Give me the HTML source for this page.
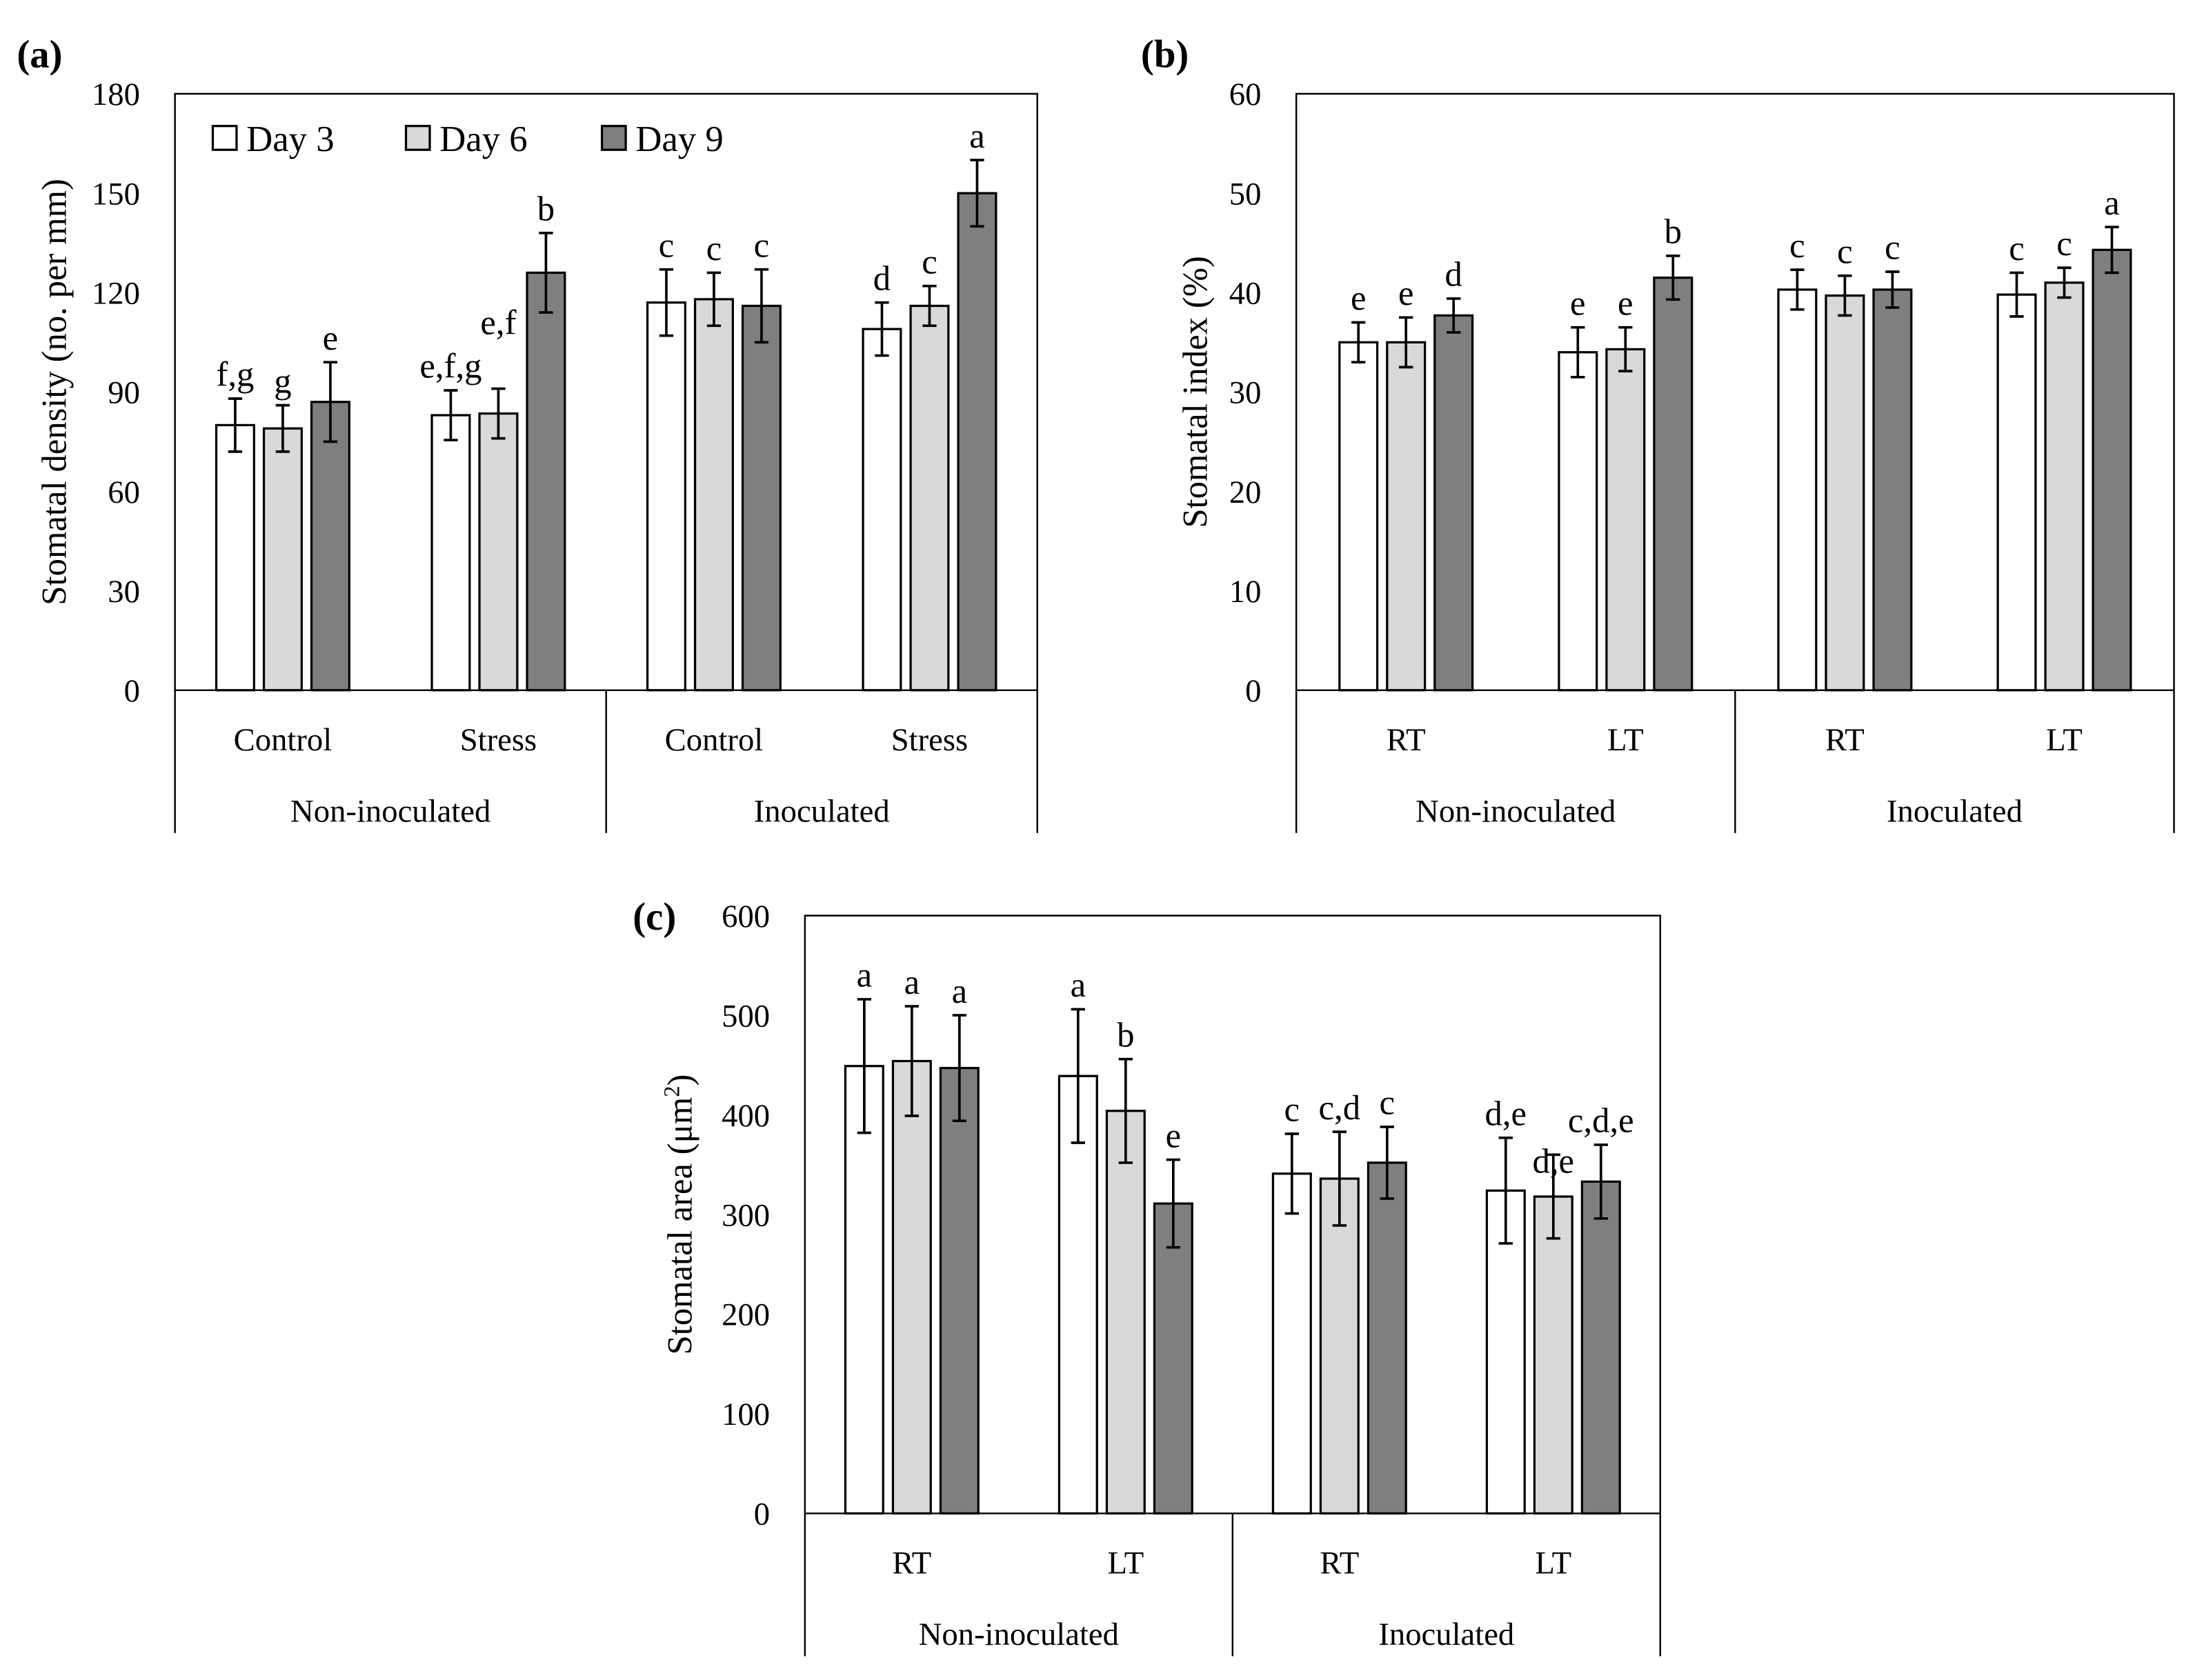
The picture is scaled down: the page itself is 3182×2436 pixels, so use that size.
<!DOCTYPE html>
<html><head><meta charset="utf-8"><style>
html,body{margin:0;padding:0;background:#fff}
svg{display:block}
text{font-family:"Liberation Serif",serif;fill:#000}
</style></head><body>
<svg id="fig" width="3182" height="2436" viewBox="0 0 1568 1200" preserveAspectRatio="none" xmlns="http://www.w3.org/2000/svg"></svg>
<script>
// Panel (a) data
const catsA = ["Control","Stress","Control","Stress"];
const groupsA = ["Non-inoculated","Inoculated"];
const d3A = [80,83,117,109];
const d6A = [79,83.5,118,116];
const d9A = [87,126,116,150];
const e3A = [8,7.5,10,8];
const e6A = [7,7.5,8,6];
const e9A = [12,12,11,10];
const l3A = ["f,g","e,f,g","c","d"];
const l6A = ["g","e,f","c","c"];
const l9A = ["e","b","c","a"];
const ticksA = [0,30,60,90,120,150,180];
// Panel (b) data
const catsB = ["RT","LT","RT","LT"];
const d3B = [35,34,40.3,39.8];
const d6B = [35,34.3,39.7,41];
const d9B = [37.7,41.5,40.3,44.3];
const e3B = [2,2.5,2,2.2];
const e6B = [2.5,2.2,2,1.5];
const e9B = [1.7,2.2,1.8,2.3];
const l3B = ["e","e","c","c"];
const l6B = ["e","e","c","c"];
const l9B = ["d","b","c","a"];
const ticksB = [0,10,20,30,40,50,60];
// Panel (c) data
const catsC = ["RT","LT","RT","LT"];
const d3C = [449,439,341,324];
const d6C = [454,404,336,318];
const d9C = [447,311,352,333];
const e3C = [67,67,40,53];
const e6C = [55,52,47,42];
const e9C = [53,44,36,37];
const l3C = ["a","a","c","d,e"];
const l6C = ["a","b","c,d","d,e"];
const l9C = ["a","e","c","c,d,e"];
const ticksC = [0,100,200,300,400,500,600];

const NS="http://www.w3.org/2000/svg";
const svg=document.getElementById('fig');
function mk(tag,attrs,parent){const e=document.createElementNS(NS,tag);for(const k in attrs)e.setAttribute(k,attrs[k]);(parent||svg).appendChild(e);return e;}
function txt(s,x,y,size,anchor,parent,extra){const t=mk('text',Object.assign({x:x,y:y,'font-size':size,'text-anchor':anchor||'middle'},extra||{}),parent);t.textContent=s;return t;}
const fills=["#ffffff","#d9d9d9","#7f7f7f"];

function panel(cfg){
  const g=mk('g',{});
  
  
  const {L,R,T,Z,B,max}=cfg;
  const y=v=>Z-(v/max)*(Z-T);
  const gw=(R-L)/4;
  const xc=i=>L+gw*(i+0.5);
  const fr=mk('path',{d:`M${L},${B} L${L},${T} L${R},${T} L${R},${B}`,fill:'none',stroke:'#000','stroke-width':1.2},g);
  
  const zl=mk('line',{x1:L,x2:R,y1:Z,y2:Z,stroke:'#000','stroke-width':1.2},g);
  
  const dv=mk('line',{x1:(L+R)/2,x2:(L+R)/2,y1:Z,y2:B,stroke:'#000','stroke-width':1.2},g);
  
  cfg.ticks.forEach(t=>{const e=txt(String(t),L-25,y(t)+8,23,'end',g);
    });
  const yt=txt(cfg.ytitle,0,0,25,'middle',g,{transform:`translate(${cfg.ytx},${(T+Z)/2}) rotate(-90)`});
  
  if(cfg.sup){const s=mk('tspan',{'baseline-shift':'super','font-size':16},yt);s.textContent='2';const s2=mk('tspan',{},yt);s2.textContent=')';}
  const pl=txt(cfg.label,cfg.lx,cfg.ly,28,'start',g,{'font-weight':'bold'});
  
  cfg.cats.forEach((c,i)=>{const e=txt(c,xc(i),Z+43,23,'middle',g);
    });
  groupsA.forEach((c,i)=>{const e=txt(c,L+(R-L)/4*(2*i+1),B-8,23,'middle',g);
    });
  const bw=27, step=34;
  const series=[cfg.s3,cfg.s6,cfg.s9], errs=[cfg.e3,cfg.e6,cfg.e9], labs=[cfg.l3,cfg.l6,cfg.l9];
  for(let s=0;s<3;s++){
    for(let i=0;i<4;i++){
      const cx=xc(i)+(s-1)*step;
      const v=series[s][i], er=errs[s][i];
      const r=mk('rect',{x:cx-bw/2,y:y(v),width:bw,height:Z-y(v),fill:fills[s],stroke:'#000','stroke-width':1.6},g);
      
      const eb=mk('path',{d:`M${cx},${y(v+er)} L${cx},${y(v-er)} M${cx-5},${y(v+er)} L${cx+5},${y(v+er)} M${cx-5},${y(v-er)} L${cx+5},${y(v-er)}`,stroke:'#000','stroke-width':1.8,fill:'none'},g);
      
      let off=(cfg.raise&&cfg.raise[s]&&cfg.raise[s][i])||0;
      const lt=txt(labs[s][i],cx,y(v+er)-9-off,25,'middle',g);
      
    }
  }
  return g;
}
panel({name:'panel-a-stomatal-density',L:125,R:741,T:67,Z:493,B:595,max:180,ticks:ticksA,
  ytitle:'Stomatal density (no. per mm)',ytx:47,label:'(a)',lx:12,ly:48,cats:catsA,
  s3:d3A,s6:d6A,s9:d9A,e3:e3A,e6:e6A,e9:e9A,l3:l3A,l6:l6A,l9:l9A,raise:[[],[0,30,0,0],[]]});
panel({name:'panel-b-stomatal-index',L:926,R:1553,T:67,Z:493,B:595,max:60,ticks:ticksB,
  ytitle:'Stomatal index (%)',ytx:862,label:'(b)',lx:815,ly:48,cats:catsB,
  s3:d3B,s6:d6B,s9:d9B,e3:e3B,e6:e6B,e9:e9B,l3:l3B,l6:l6B,l9:l9B});
panel({name:'panel-c-stomatal-area',L:575,R:1186,T:654,Z:1081,B:1183,max:600,ticks:ticksC,
  ytitle:'Stomatal area (μm',ytx:494,sup:true,label:'(c)',lx:452,ly:664,cats:catsC,
  s3:d3C,s6:d6C,s9:d9C,e3:e3C,e6:e6C,e9:e9C,l3:l3C,l6:l6C,l9:l9C,raise:[[],[0,0,0,-22],[]]});
const leg=mk('g',{});


[["Day 3",152],["Day 6",290],["Day 9",430]].forEach((d,i)=>{
  const r=mk('rect',{x:d[1],y:90,width:17,height:17,fill:fills[i],stroke:'#000','stroke-width':1.6},leg);
  
  const t=txt(d[0],d[1]+24,108,26,'start',leg);
  
});
</script>
</body></html>
